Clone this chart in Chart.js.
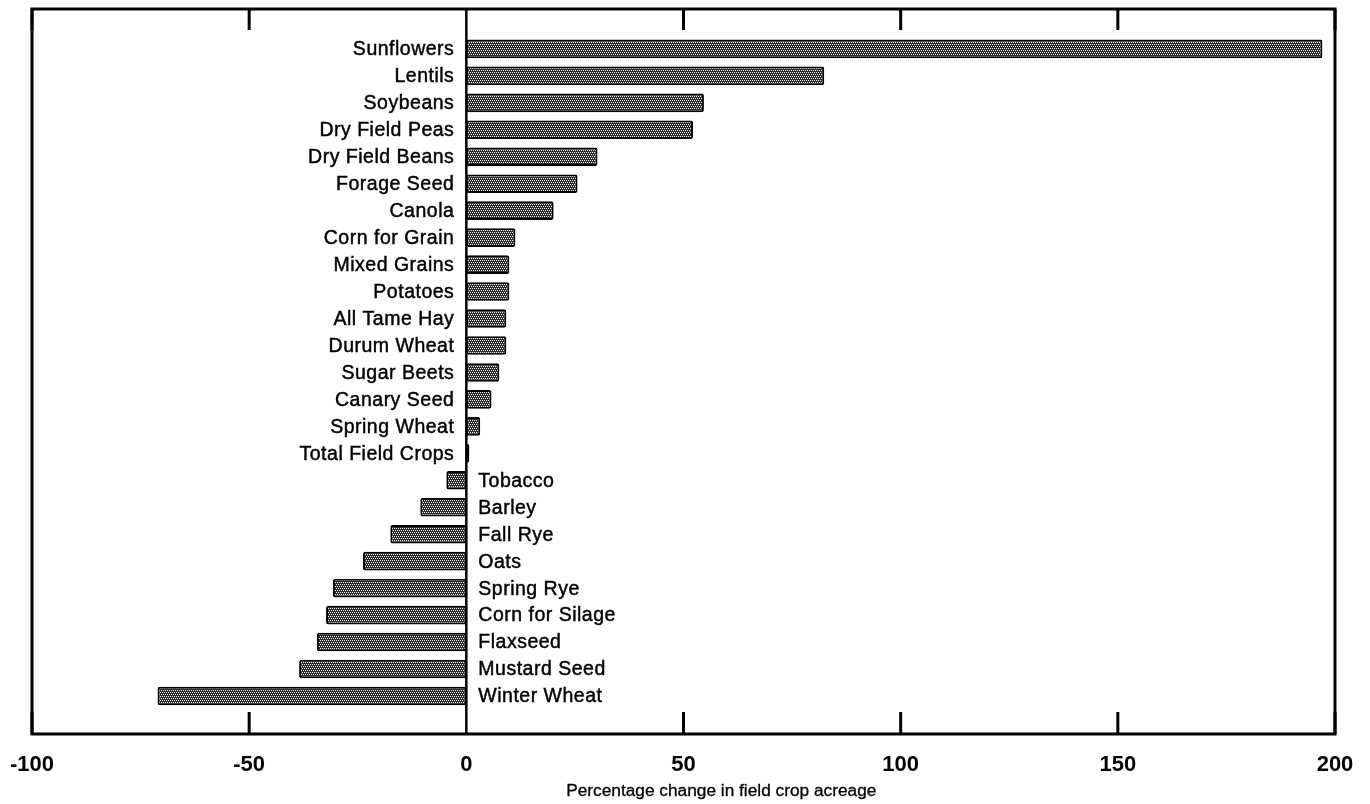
<!DOCTYPE html>
<html><head><meta charset="utf-8">
<script src="https://cdn.jsdelivr.net/npm/chart.js@4"></script>
<style>html,body{margin:0;padding:0;background:#fff}#wrap{width:1370px;height:804px}</style>
</head><body><div id="wrap"><canvas id="c" width="1370" height="804"></canvas></div>
<script>
const categories = ['Sunflowers','Lentils','Soybeans','Dry Field Peas','Dry Field Beans','Forage Seed','Canola','Corn for Grain','Mixed Grains','Potatoes','All Tame Hay','Durum Wheat','Sugar Beets','Canary Seed','Spring Wheat','Total Field Crops','Tobacco','Barley','Fall Rye','Oats','Spring Rye','Corn for Silage','Flaxseed','Mustard Seed','Winter Wheat'];
const changes = [197.1, 82.4, 54.7, 52.2, 30.2, 25.6, 20.1, 11.3, 9.9, 9.9, 9.2, 9.2, 7.6, 5.8, 3.2, 0.7, -4.6, -10.6, -17.5, -23.8, -30.7, -32.3, -34.4, -38.5, -71.1];
const xTicks = [-100, -50, 0, 50, 100, 150, 200];
const axisTitle = 'Percentage change in field crop acreage';

const FONT = '"Liberation Sans", Arial, Helvetica, sans-serif';

function makePattern() {
  const t = document.createElement('canvas');
  t.width = 4; t.height = 4;
  const g = t.getContext('2d');
  g.fillStyle = '#2a2a2a'; g.fillRect(0, 0, 4, 4);
  g.fillStyle = '#f4f4f4';
  [[0,0],[2,0],[1,2],[3,2]].forEach(p => g.fillRect(p[0], p[1], 1, 1));
  return document.getElementById('c').getContext('2d').createPattern(t, 'repeat');
}

const framePlugin = {
  id: 'frame',
  afterDatasetsDraw(chart) {
    const {ctx, chartArea: a, scales: {x, y}} = chart;
    ctx.save();
    ctx.strokeStyle = '#000';
    ctx.lineWidth = 3;
    ctx.strokeRect(a.left, a.top, a.right - a.left, a.bottom - a.top);
    x.ticks.forEach(t => {
      const px = x.getPixelForValue(t.value);
      ctx.beginPath();
      if (t.value === 0) {
        ctx.lineWidth = 2.5;
        ctx.moveTo(px, a.top); ctx.lineTo(px, a.bottom);
      } else {
        ctx.lineWidth = 3;
        ctx.moveTo(px, a.top); ctx.lineTo(px, a.top + 21);
        ctx.moveTo(px, a.bottom); ctx.lineTo(px, a.bottom - 22);
      }
      ctx.stroke();
    });
    // category labels beside the zero line
    const x0 = x.getPixelForValue(0);
    ctx.fillStyle = '#000';
    ctx.strokeStyle = '#000';
    ctx.lineWidth = 0.45;
    ctx.font = '19.5px ' + FONT;
    ctx.letterSpacing = '0.5px';
    ctx.textBaseline = 'middle';
    categories.forEach((c, i) => {
      const py = y.getPixelForValue(i) + 1;
      let tx;
      if (changes[i] >= 0) { ctx.textAlign = 'right'; tx = x0 - 12; }
      else { ctx.textAlign = 'left'; tx = x0 + 12; }
      ctx.fillText(c, tx, py);
      ctx.strokeText(c, tx, py);
    });
    // axis title
    ctx.letterSpacing = '0px';
    ctx.font = '17.3px ' + FONT;
    ctx.lineWidth = 0.3;
    ctx.textAlign = 'center';
    const tx = a.left + 0.529 * (a.right - a.left), ty = 791;
    ctx.fillText(axisTitle, tx, ty);
    ctx.strokeText(axisTitle, tx, ty);
    ctx.restore();
  }
};

new Chart(document.getElementById('c'), {
  type: 'bar',
  data: {
    datasets: [{
      data: categories.map((c, i) => ({x: changes[i], y: i})),
      backgroundColor: makePattern(),
      borderColor: '#000',
      borderWidth: 2,
      borderSkipped: false,
      borderRadius: 2,
      categoryPercentage: 1,
      barPercentage: 0.69
    }]
  },
  options: {
    indexAxis: 'y',
    responsive: false,
    devicePixelRatio: 1,
    animation: false,
    layout: {padding: {left: 32, right: 35, top: 9, bottom: 8}},
    plugins: {legend: {display: false}, tooltip: {enabled: false}},
    scales: {
      x: {
        type: 'linear', min: -100, max: 200,
        afterBuildTicks: s => { s.ticks = xTicks.map(v => ({value: v})); },
        afterFit: s => { s.paddingLeft = 0; s.paddingRight = 0; },
        grid: {display: false, drawTicks: false},
        border: {display: false},
        ticks: {color: '#000', padding: 17.8, font: {family: FONT, size: 22, weight: 'bold'}},
        title: {display: false}
      },
      y: {
        type: 'linear', reverse: true, min: -1.48, max: 25.41, offset: false, display: false
      }
    }
  },
  plugins: [framePlugin]
});
</script></body></html>
